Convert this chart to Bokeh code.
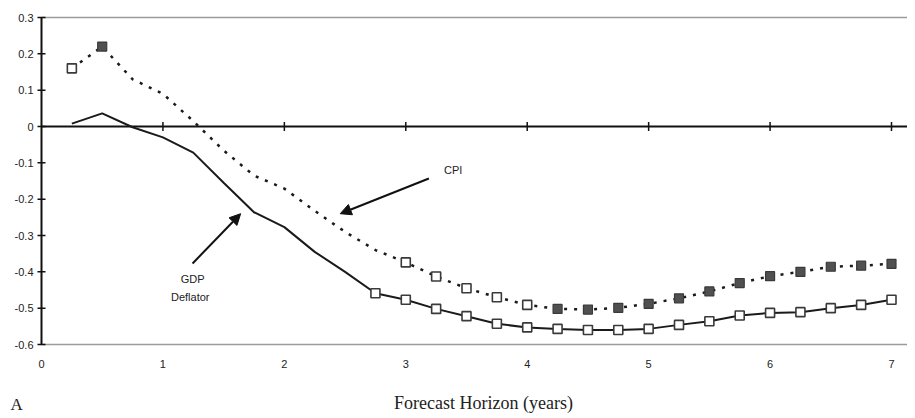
from bokeh.plotting import figure
from bokeh.models import Range1d, Arrow, NormalHead
from bokeh.embed import file_html
from bokeh.resources import INLINE
from bokeh.core.properties import value

# ---------------- data ----------------
horizon = [0.25, 0.5, 0.75, 1.0, 1.25, 1.5, 1.75, 2.0, 2.25, 2.5, 2.75, 3.0, 3.25, 3.5,
           3.75, 4.0, 4.25, 4.5, 4.75, 5.0, 5.25, 5.5, 5.75, 6.0, 6.25, 6.5, 6.75, 7.0]
cpi = [0.16, 0.22, 0.13, 0.09, 0.015, -0.066, -0.135, -0.171, -0.232, -0.29, -0.34, -0.374,
       -0.413, -0.445, -0.47, -0.491, -0.502, -0.504, -0.499, -0.488, -0.473, -0.454,
       -0.431, -0.412, -0.400, -0.386, -0.383, -0.378]
gdp = [0.008, 0.036, -0.002, -0.03, -0.072, -0.155, -0.236, -0.277, -0.345, -0.40, -0.459,
       -0.477, -0.502, -0.522, -0.543, -0.553, -0.557, -0.56, -0.56, -0.557, -0.546, -0.536,
       -0.52, -0.513, -0.511, -0.50, -0.491, -0.477]
# marker type per point: "open", "filled" or "none"
cpi_marker = ["open", "filled"] + ["none"] * 9 + ["open"] * 5 + ["filled"] * 12
gdp_marker = ["none"] * 10 + ["open"] * 18

x_ticks = [0, 1, 2, 3, 4, 5, 6, 7]
x_tick_labels = ["0", "1", "2", "3", "4", "5", "6", "7"]
y_ticks = [0.3, 0.2, 0.1, 0.0, -0.1, -0.2, -0.3, -0.4, -0.5, -0.6]
y_tick_labels = ["0.3", "0.2", "0.1", "0", "-0.1", "-0.2", "-0.3", "-0.4", "-0.5", "-0.6"]
x_title = "Forecast Horizon (years)"
panel_label = "A"

# ---------------- layout (pixels) ----------------
SANS = "Liberation Sans"
SERIF = "Liberation Serif"
W, H = 907, 414
AX_LEFT_PX, AX_RIGHT_PX = 41, 891      # where x = 0 and x = 7 fall
AX_TOP_PX, AX_BOT_PX = 17, 344         # where y = 0.3 and y = -0.6 fall

x_min, x_max = min(x_ticks), max(x_ticks)
y_min, y_max = min(y_ticks), max(y_ticks)
SX = (AX_RIGHT_PX - AX_LEFT_PX) / (x_max - x_min)
SY = (AX_BOT_PX - AX_TOP_PX) / (y_max - y_min)
x_start = x_min - AX_LEFT_PX / SX
x_end = x_start + W / SX
y_end = y_max + AX_TOP_PX / SY
y_start = y_end - H / SY

def px_x(d):  # pixel distance -> data distance (x)
    return d / SX

def px_y(d):  # pixel distance -> data distance (y)
    return d / SY

p = figure(width=W, height=H, output_backend="svg", toolbar_location=None,
           x_range=Range1d(x_start, x_end), y_range=Range1d(y_start, y_end),
           x_axis_location=None, y_axis_location=None,
           min_border_left=0, min_border_right=0, min_border_top=0, min_border_bottom=0)
p.outline_line_color = None
p.grid.visible = False
p.background_fill_color = "white"
p.border_fill_color = "white"

INK = "#111111"
GRAY = "#9a9a9a"
TXT = "#222222"

# frame lines: gray at top and bottom, black zero line, black y axis
p.segment(x0=[x_min, x_min], y0=[y_max, y_min], x1=[x_end, x_end], y1=[y_max, y_min],
          line_color=GRAY, line_width=1.5)
p.segment(x0=[x_min], y0=[0], x1=[x_end], y1=[0], line_color=INK, line_width=2)
p.segment(x0=[x_min], y0=[y_min], x1=[x_min], y1=[y_max], line_color=INK, line_width=2)

# ticks
p.scatter(x=[x_min] * len(y_ticks), y=y_ticks, marker="dash", size=8,
          line_color=INK, line_width=1.5)
p.scatter(x=x_ticks[1:], y=[0] * (len(x_ticks) - 1), marker="dash", angle=1.5708,
          size=9, line_color=INK, line_width=1.5)

# tick labels
p.text(x=[x_min - px_x(8)] * len(y_ticks), y=y_ticks, text=y_tick_labels,
       text_font=value(SANS), text_font_size="11px", text_color=TXT,
       text_align="right", text_baseline="middle")
p.text(x=x_ticks, y=[y_min - px_y(19)] * len(x_ticks), text=x_tick_labels,
       text_font=value(SANS), text_font_size="11px", text_color=TXT,
       text_align="center", text_baseline="middle")

# series lines
p.line(horizon, gdp, line_color="#1a1a1a", line_width=2)
p.line(horizon, cpi, line_color="#1a1a1a", line_width=2.5, line_dash="3 7")

def pick(xs, ys, kinds, kind):
    idx = [i for i, k in enumerate(kinds) if k == kind]
    return [xs[i] for i in idx], [ys[i] for i in idx]

for ys, kinds in ((gdp, gdp_marker), (cpi, cpi_marker)):
    ox, oy = pick(horizon, ys, kinds, "open")
    p.scatter(ox, oy, marker="square", size=9, fill_color="white",
              line_color="#3a3a3a", line_width=1.6)
    fx, fy = pick(horizon, ys, kinds, "filled")
    p.scatter(fx, fy, marker="square", size=9, fill_color="#505050",
              line_color="#3a3a3a", line_width=1.2)

# annotations
p.add_layout(Arrow(end=NormalHead(size=11, fill_color=INK, line_color=INK),
                   x_start=3.19, y_start=-0.143, x_end=2.46, y_end=-0.24,
                   line_color=INK, line_width=2))
p.add_layout(Arrow(end=NormalHead(size=11, fill_color=INK, line_color=INK),
                   x_start=1.244, y_start=-0.377, x_end=1.64, y_end=-0.24,
                   line_color=INK, line_width=2))
p.text(x=[3.39], y=[-0.121], text=["CPI"], text_font=value(SANS), text_font_size="11px",
       text_align="center", text_baseline="middle", text_color=TXT)
p.text(x=[1.244, 1.225], y=[-0.419, -0.468], text=["GDP", "Deflator"], text_font=value(SANS),
       text_font_size="11px", text_align="center", text_baseline="middle", text_color=TXT)

# axis title and panel letter below the plot (vertically centred on a row)
p.text(x=[3.64], y=[y_min - px_y(58)], text=[x_title], text_font=value(SERIF),
       text_font_size="18px", text_align="center", text_baseline="middle", text_color=TXT)
p.text(x=[x_min - px_x(31)], y=[y_min - px_y(60)], text=[panel_label], text_font=value(SERIF),
       text_font_size="17px", text_align="left", text_baseline="middle", text_color=TXT)

open("out.html", "w").write(file_html(p, INLINE))
